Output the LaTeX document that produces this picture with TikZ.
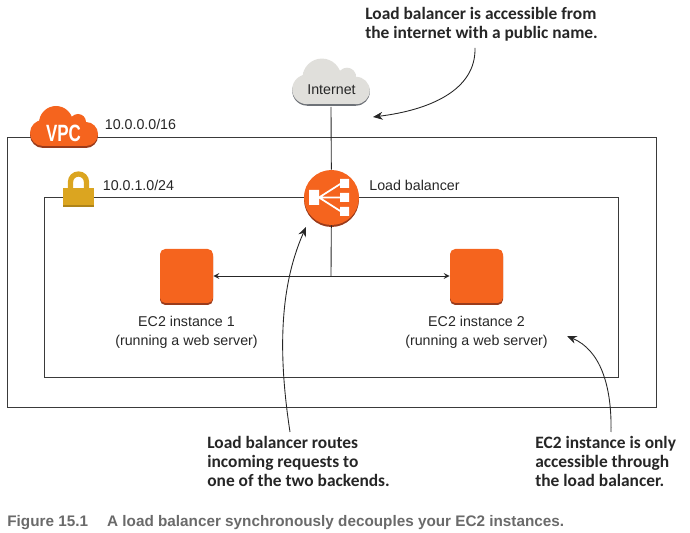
\documentclass[tikz,border=0pt]{standalone}
\usepackage{fontspec}
\setmainfont{Liberation Sans}
\newfontfamily\calloutfont{Carlito}
\usetikzlibrary{shadows,arrows.meta}
\definecolor{awsorange}{HTML}{F5641E}
\definecolor{awsdark}{HTML}{9A3B1B}
\definecolor{cloudgrey}{HTML}{E0DFDB}
\definecolor{cloudedge}{HTML}{6E7278}
\definecolor{lockgold}{HTML}{DBA520}
\definecolor{linegrey}{HTML}{3A3A3A}
\definecolor{captiongrey}{HTML}{6A6A6A}
\newcommand{\cloudblob}[3]{%
  \begin{scope}[shift={#1}, scale=#2]
    \fill[#3] (-21,6) circle (13);
    \fill[#3] (-8,-4) circle (17);
    \fill[#3] (14,-5) circle (8);
    \fill[#3] (22,7) circle (12);
    \fill[#3] (-21,-2) rectangle (22,19);
  \end{scope}}
\tikzset{
  boxline/.style={draw=linegrey, line width=0.55pt},
  wire/.style={draw=black!85, line width=0.5pt},
  note/.style={draw=black!85, line width=0.5pt, -{Stealth[length=5.5pt,width=4.5pt]}},
  label/.style={inner sep=0pt, anchor=base west, text=black!85, font=\fontsize{8.1}{11}\selectfont},
  centred/.style={label, anchor=north, align=center},
  callout/.style={inner sep=0pt, anchor=north west, align=left, text=black!85, font=\calloutfont\bfseries\fontsize{9.9}{10.8}\selectfont},
  ec2box/.style={fill=awsorange, rounded corners=3pt, minimum width=53*0.02cm, minimum height=54*0.02cm, inner sep=0pt,
    copy shadow={shadow xshift=0pt, shadow yshift=-0.04cm, fill=awsdark, draw=none}},
  lbdisc/.style={circle, fill=awsorange, minimum size=55*0.02cm, inner sep=0pt,
    copy shadow={shadow xshift=0pt, shadow yshift=-0.04cm, fill=awsdark, draw=none}}
}
\begin{document}
\begin{tikzpicture}[x=0.02cm, y=-0.02cm, >=stealth]
  \useasboundingbox (0,0) rectangle (690,533);

  % VPC と subnet の枠
  \draw[boxline] (7,137) rectangle (656,407);
  \draw[boxline] (44,197) rectangle (618,377);

  % VPC cloud
  \cloudblob{(64,129)}{1}{awsdark}
  \cloudblob{(64,127)}{1}{awsorange}
  \node[transform shape, xscale=0.72, inner sep=0pt, text=white, font=\bfseries\fontsize{13.4}{14}\selectfont] (vpc) at (63.5,133) {VPC};
  \node[label] (vpcnet) at (104.5,129.5) {10.0.0.0/16};

  % lock
  \draw[lockgold, line width=3pt] (70.5,190) -- (70.5,182) arc (180:360:8) -- (86.5,190);
  \fill[lockgold!80!black] (63,190) rectangle (94,207);
  \fill[lockgold] (63,188) rectangle (94,205.5);
  \node[label] (subnet) at (102.5,190.5) {10.0.1.0/24};

  % Internet cloud
  \cloudblob{(331,84)}{1.14}{cloudedge}
  \cloudblob{(331,82.5)}{1.14}{cloudgrey}
  \node[inner sep=0pt, text=black!85, font=\fontsize{8.1}{10}\selectfont] (internet) at (331.5,89.5) {Internet};
  \coordinate (cloudfoot) at (331,107);

  % load balancer
  \node[lbdisc] (lb) at (331.5,197.5) {};
  \fill[white] (309,190) rectangle (319,205) (340,179) rectangle (349,188) (340,193) rectangle (349,202) (340,207) rectangle (349,216);
  \draw[white, line width=1pt] (319,197.5) -- (341,183.5) (319,197.5) -- (341,197.5) (319,197.5) -- (341,211.5);
  \node[label] (lblabel) at (369,190.5) {Load balancer};

  % EC2 instances
  \node[ec2box] (ec2a) at (186.5,276) {};
  \node[ec2box] (ec2b) at (476.5,276) {};
  \node[centred] (ec2atext) at (186.5,315.5) {EC2 instance 1\\(running a web server)};
  \node[centred] (ec2btext) at (476.5,315.5) {EC2 instance 2\\(running a web server)};

  % 配線
  \coordinate (fork) at (331,276);
  \draw[wire] (cloudfoot) -- (lb);
  \draw[wire] (lb) -- (fork);
  \draw[wire, <->] (ec2a) -- (ec2b);

  % callouts
  \node[callout] (notenet) at (365,7) {Load balancer is accessible from\\the internet with a public name.};
  \node[callout] (noteroute) at (207,436) {Load balancer routes\\incoming requests to\\one of the two backends.};
  \node[callout] (noteonly) at (535,436) {EC2 instance is only\\accessible through\\the load balancer.};
  \coordinate (netfrom) at (475,48);
  \coordinate (netto) at (373,117);
  \coordinate (routefrom) at (290,432);
  \coordinate (routeto) at (306,227);
  \coordinate (onlyfrom) at (611,432);
  \coordinate (onlyto) at (567,336);
  \draw[note] (netfrom) .. controls (476,90) and (430,110) .. (netto);
  \draw[note] (routefrom) .. controls (279,360) and (278,290) .. (routeto);
  \draw[note] (onlyfrom) .. controls (612,385) and (600,350) .. (onlyto);

  % caption
  \node[inner sep=0pt, anchor=base west, text=captiongrey, font=\bfseries\fontsize{8.7}{10}\selectfont] (caption) at (7,526) {Figure 15.1\hspace{1.25em}A load balancer synchronously decouples your EC2 instances.};
\end{tikzpicture}
\end{document}
